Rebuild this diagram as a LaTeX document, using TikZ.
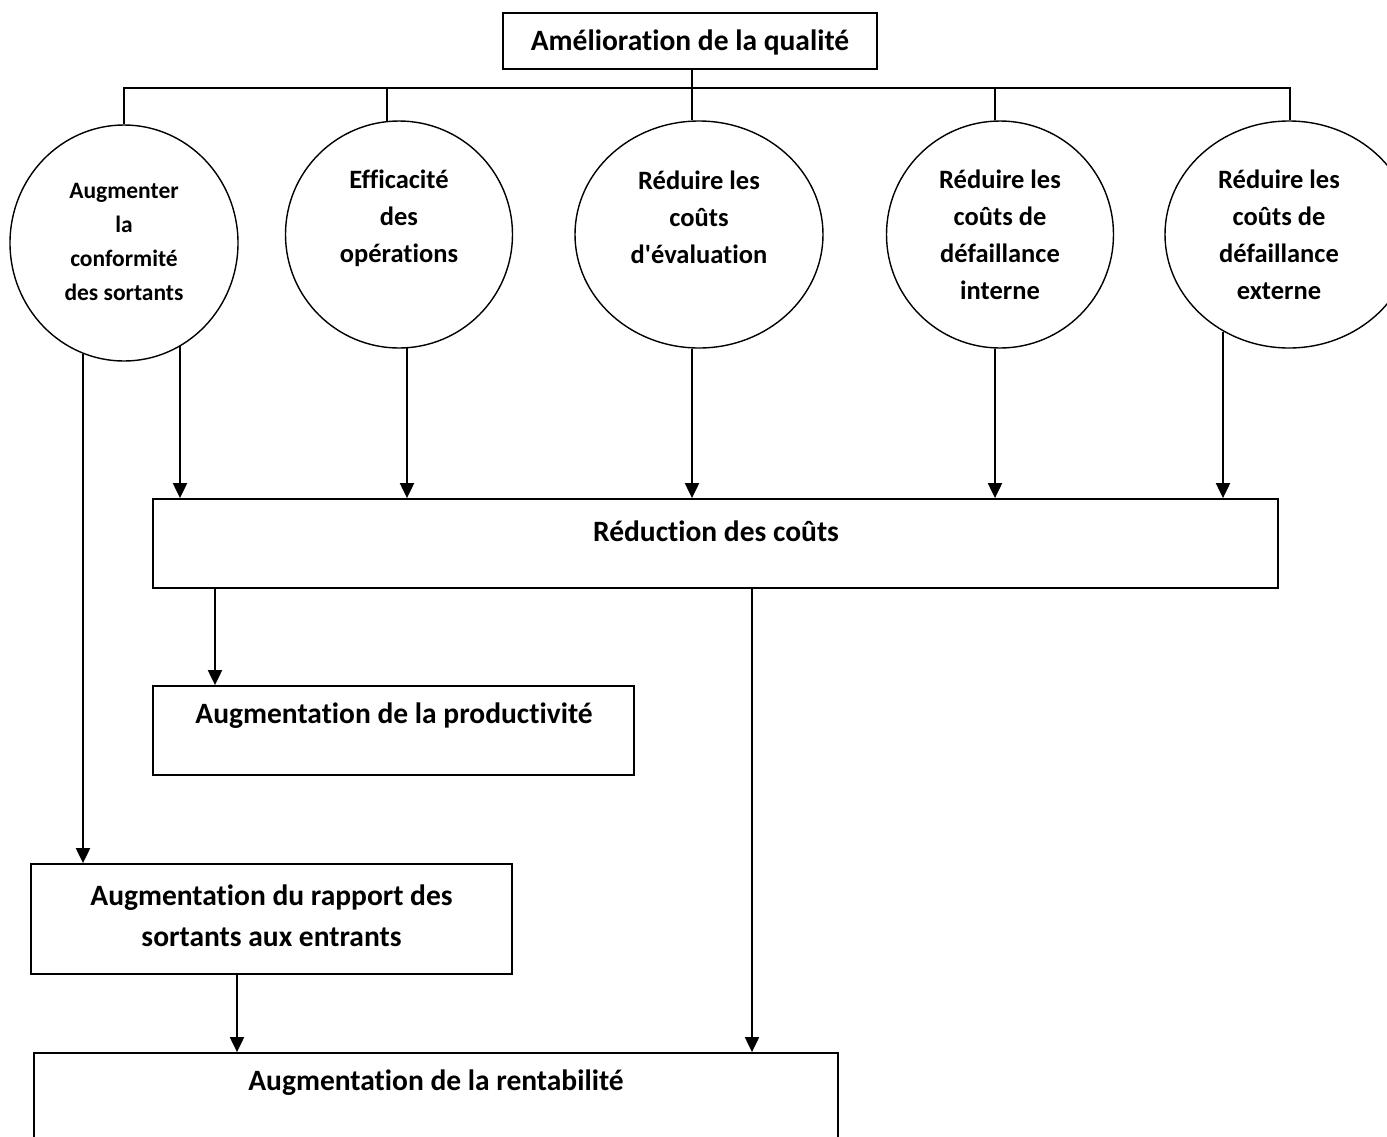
\documentclass[tikz,border=0pt]{standalone}
\usepackage{fontspec}
\setmainfont{Carlito}[Ligatures={TeXOff,NoCommon}]
\usetikzlibrary{shapes.geometric,arrows.meta,calc}
\tikzset{
  boxnode/.style={draw, line width=1.8pt, rectangle, inner sep=0pt},
  bubble/.style={draw, line width=1.4pt, ellipse, inner sep=0pt},
  lbl/.style={font=\fontsize{26.5}{37}\selectfont\bfseries, align=center, inner sep=0pt},
  boxlbl/.style={font=\fontsize{29.5}{41}\selectfont\bfseries, align=center, inner sep=0pt},
  lblsmall/.style={font=\fontsize{23.5}{34}\selectfont\bfseries, align=center, inner sep=0pt},
  conn/.style={line width=1.6pt},
  arr/.style={line width=2pt, -{Triangle[width=14pt,length=15pt]}},
}
\begin{document}
\begin{tikzpicture}[x=1pt,y=-1pt]
\useasboundingbox (0,0) rectangle (1387,1136);
\clip (0,0) rectangle (1387,1136);
\fill[white] (0,0) rectangle (1387,1136);
% top box
\node[boxnode, minimum width=374pt, minimum height=56pt] (top) at (690,41) {};
\node[boxlbl] (toplbl) at (690,42) {Amélioration de la qualité};
% circles
\node[bubble, minimum width=228pt, minimum height=236pt] (c1) at (124,243) {};
\node[bubble, minimum width=227pt, minimum height=227pt] (c2) at (399,234.5) {};
\node[bubble, minimum width=248pt, minimum height=227pt] (c3) at (699,234.5) {};
\node[bubble, minimum width=227pt, minimum height=227pt] (c4) at (1000,234.5) {};
\node[bubble, minimum width=248pt, minimum height=227pt] (c5) at (1289,234.5) {};
\node[lblsmall] (l1) at (124,242) {Augmenter\\la\\conformité\\des sortants};
\node[lbl] (l2) at (399,218.5) {Efficacité\\des\\opérations};
\node[lbl] (l3) at (699,217.5) {Réduire les\\coûts\\d'évaluation};
\node[lbl] (l4) at (1000,235) {Réduire les\\coûts de\\défaillance\\interne};
\node[lbl] (l5) at (1279,235) {Réduire les\\coûts de\\défaillance\\externe};
% boxes
\node[boxnode, minimum width=1125pt, minimum height=89pt] (red) at (715.5,543.5) {};
\node[boxlbl] (redlbl) at (716,531) {Réduction des coûts};
\node[boxnode, minimum width=481pt, minimum height=89pt] (prod) at (393.5,730.5) {};
\node[boxlbl] (prodlbl) at (394,716) {Augmentation de la productivité};
\node[boxnode, minimum width=481pt, minimum height=110pt] (rap) at (271.5,919) {};
\node[boxlbl] (raplbl) at (271.5,915.5) {Augmentation du rapport des\\sortants aux entrants};
\node[boxnode, minimum width=804pt, minimum height=140pt] (rent) at (436,1123) {};
\node[boxlbl] (rentlbl) at (436,1083) {Augmentation de la rentabilité};
% vertical guides (x positions of the connectors)
\coordinate (bus) at (0,88);
\coordinate (gtop) at (692,0);
\coordinate (gb1) at (124,0);
\coordinate (gb2) at (387,0);
\coordinate (gb4) at (995,0);
\coordinate (gb5) at (1290,0);
\coordinate (ga1) at (83,0);
\coordinate (ga2) at (180,0);
\coordinate (ga3) at (407,0);
\coordinate (ga5) at (995,0);
\coordinate (ga6) at (1223,0);
\coordinate (gr1) at (215,0);
\coordinate (gr2) at (752,0);
\coordinate (gq1) at (237,0);
% tree connectors
\draw[conn] (gtop |- top.south) -- (gtop |- c3.93.5);
\draw[conn] (gb1 |- c1.north) -- (gb1 |- bus) -- (gb5 |- bus) -- (gb5 |- c5.90);
\draw[conn] (gb2 |- c2.96.1) -- (gb2 |- bus);
\draw[conn] (gb4 |- c4.92.5) -- (gb4 |- bus);
% arrows from circles
\draw[arr] (ga1 |- c1.-110.4) -- (ga1 |- rap.north);
\draw[arr] (ga2 |- c1.-61.4) -- (ga2 |- red.north);
\draw[arr] (ga3 |- c2.-86) -- (ga3 |- red.north);
\draw[arr] (gtop |- c3.-93.5) -- (gtop |- red.north);
\draw[arr] (ga5 |- c4.-92.5) -- (ga5 |- red.north);
\draw[arr] (ga6 |- c5.-124.5) -- (ga6 |- red.north);
% arrows from boxes
\draw[arr] (gr1 |- red.south) -- (gr1 |- prod.north);
\draw[arr] (gr2 |- red.south) -- (gr2 |- rent.north);
\draw[arr] (gq1 |- rap.south) -- (gq1 |- rent.north);
\end{tikzpicture}
\end{document}
